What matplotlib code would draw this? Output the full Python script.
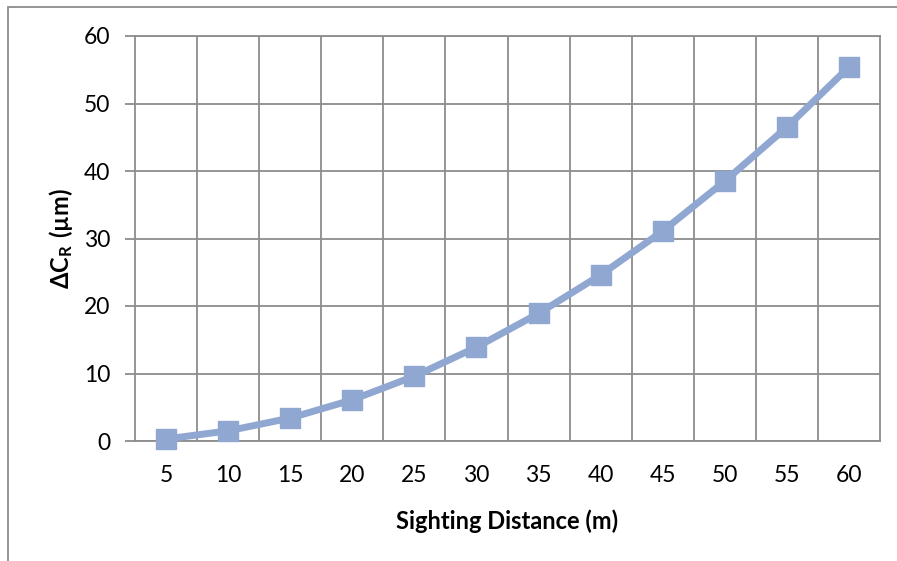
import matplotlib
matplotlib.use('Agg')
import matplotlib.pyplot as plt
from matplotlib.patches import Rectangle

plt.rcParams['font.family'] = ['Lato', 'DejaVu Sans']
plt.rcParams['mathtext.fontset'] = 'custom'
plt.rcParams['mathtext.rm'] = 'Lato'
plt.rcParams['mathtext.bf'] = 'Lato:bold'

# sighting distance (m) and delta C_R (um)
distances = ['5', '10', '15', '20', '25', '30', '35', '40', '45', '50', '55', '60']
delta_cr = [0.3, 1.5, 3.4, 6.1, 9.6, 13.9, 18.9, 24.6, 31.1, 38.5, 46.5, 55.4]
y_ticks = [0, 10, 20, 30, 40, 50, 60]

grid_col = '#8c8c8c'
line_col = '#8fa7d1'

fig = plt.figure(figsize=(8.97, 5.61), dpi=100)
ax = fig.add_axes([135 / 897, 1 - 441 / 561, 745 / 897, 405 / 561])

xpos = range(len(distances))
ax.plot(xpos, delta_cr, color=line_col, lw=5, marker='s', ms=14,
        markerfacecolor=line_col, markeredgecolor=line_col, zorder=3,
        solid_capstyle='round', clip_on=False)

ax.set_xlim(-0.5, len(distances) - 0.5)
ax.set_ylim(0, 60)
ax.set_yticks(y_ticks)
ax.set_xticks(list(xpos))
ax.set_xticklabels(distances)

# vertical gridlines sit between categories (Excel style)
for b in range(1, len(distances)):
    ax.axvline(b - 0.5, color=grid_col, lw=1.3, zorder=1)
ax.yaxis.grid(True, color=grid_col, lw=1.3, zorder=1)
ax.set_axisbelow(True)

for s in ax.spines.values():
    s.set_color(grid_col)
    s.set_linewidth(1.3)

ax.tick_params(axis='y', length=7, width=1.3, color=grid_col, pad=11,
               labelsize=16.5)
ax.tick_params(axis='x', length=0, pad=17, labelsize=16.5)

ax.set_xlabel('Sighting Distance (m)', fontsize=17, fontweight='bold', labelpad=17)
ax.set_ylabel(r'$\mathbf{\Delta C_R\ (µm)}$', fontsize=17, labelpad=6)

# outer chart frame, cut off on right and bottom
fig.patches.append(Rectangle((8 / 897, -0.1), 1.2, 1 - 7 / 561 + 0.1,
                             transform=fig.transFigure, fill=False,
                             edgecolor='#8c8c8c', lw=1.3))

fig.savefig('out.png', dpi=100)
